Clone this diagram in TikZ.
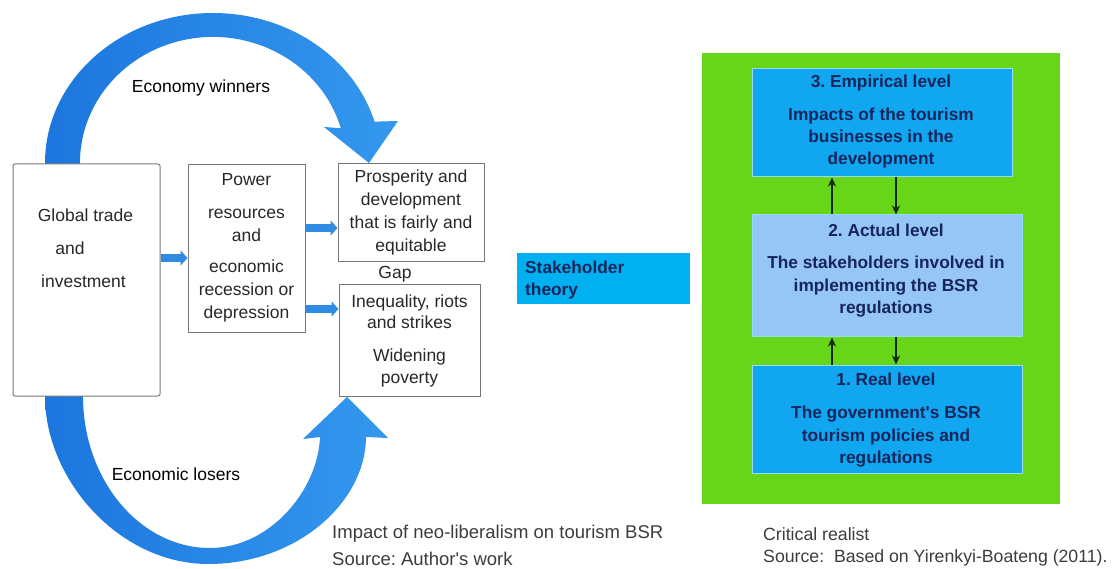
\documentclass[tikz,border=0pt]{standalone}
\usepackage{fontspec}
\setmainfont{Liberation Sans}
\usetikzlibrary{arrows.meta}
\frenchspacing

\definecolor{arcdark}{RGB}{28,118,222}
\definecolor{arclight}{RGB}{52,152,238}
\definecolor{flowblue}{RGB}{48,140,226}
\definecolor{framegray}{RGB}{120,120,120}
\definecolor{textgray}{RGB}{40,40,40}
\definecolor{capgray}{RGB}{60,60,60}
\definecolor{levelgreen}{RGB}{104,214,24}
\definecolor{levelblue}{RGB}{16,166,240}
\definecolor{levelpale}{RGB}{150,198,245}
\definecolor{leveledge}{RGB}{150,220,250}
\definecolor{navy}{RGB}{22,38,92}
\definecolor{stakecyan}{RGB}{0,176,240}
\definecolor{arrowdark}{RGB}{15,40,15}

\tikzset{
  plainbox/.style={draw=framegray, line width=1pt, fill=white},
  line/.style={font=\fontsize{17.5}{21}\selectfont, text=textgray, inner sep=0pt, anchor=base},
  boldline/.style={font=\fontsize{17.3}{21}\selectfont\bfseries, text=navy, inner sep=0pt, anchor=base},
  caption/.style={font=\fontsize{18.5}{22}\selectfont, text=capgray, inner sep=0pt, anchor=base west},
  flow/.style={draw=flowblue, line width=8pt, -{Triangle[length=7pt,width=15pt]}},
  lvlarrow/.style={draw=arrowdark, line width=2.2pt, -{Stealth[length=9pt,width=8pt]}},
  levelbox/.style={fill=levelblue, draw=leveledge, line width=1pt},
  bigarc/.style={left color=arcdark, right color=arclight, draw=none}
}

\begin{document}
\begin{tikzpicture}[x=1pt,y=-1pt]
\useasboundingbox (0,0) rectangle (1114,569);

% curved band "Economy winners" (over the top, pointing down)
\path[bigarc]
  (45,168) -- (45,163)
  arc[start angle=180, end angle=344, x radius=168, y radius=150]
  -- (398,121) -- (369,163) -- (324,127) -- (340.8,128.2)
  arc[start angle=344, end angle=180, x radius=133, y radius=126]
  -- (80,168) -- cycle;

% curved band "Economic losers" (underneath, pointing up)
\path[bigarc]
  (45,392) -- (45,396)
  .. controls (45,480) and (120,565) .. (210,564)
  .. controls (300,563) and (366,500) .. (366,437)
  -- (388,438) -- (347,397) -- (303,439) -- (320,437)
  .. controls (318,490) and (270,548) .. (210,548)
  .. controls (140,548) and (83,480) .. (83,396)
  -- (83,392) -- cycle;

% left-hand boxes
\node[plainbox, rounded corners=2pt, minimum width=147pt, minimum height=232pt] (global) at (86.5,280) {};
\node[plainbox, minimum width=117pt, minimum height=168pt] (power) at (246.5,249) {};
\node[plainbox, minimum width=146pt, minimum height=98pt] (prosper) at (411,213) {};
\node[plainbox, minimum width=141pt, minimum height=111pt] (inequal) at (409.5,340.5) {};

\node[line] (g1) at (85.5,222) {Global trade};
\node[line] (g2) at (70,255) {and};
\node[line] (g3) at (83.5,288) {investment};

\node[line] (p1) at (246.5,186) {Power};
\node[line] (p2) at (246.5,219) {resources};
\node[line] (p3) at (246.5,242) {and};
\node[line] (p4) at (246.5,273) {economic};
\node[line] (p5) at (246.5,296) {recession or};
\node[line] (p6) at (246.5,319) {depression};

\node[line] (q1) at (411,183) {Prosperity and};
\node[line] (q2) at (411,206) {development};
\node[line] (q3) at (411,229) {that is fairly and};
\node[line] (q4) at (411,252) {equitable};

\node[line] (gap) at (395,279) {Gap};

\node[line] (i1) at (409.5,308) {Inequality, riots};
\node[line] (i2) at (409.5,329) {and strikes};
\node[line] (i3) at (409.5,362) {Widening};
\node[line] (i4) at (409.5,383) {poverty};

% short flow arrows between the boxes
\coordinate (f1) at (0,258);
\coordinate (f2) at (0,228);
\coordinate (f3) at (0,309);
\draw[flow] (global.east |- f1) -- (power.west |- f1);
\draw[flow] (power.east |- f2) -- (prosper.west |- f2);
\draw[flow] (power.east |- f3) -- (inequal.west |- f3);

\node[line, text=black] (winners) at (201,93) {Economy winners};
\node[line, text=black] (losers) at (176,480) {Economic losers};

\node[caption] (cap1) at (332,538) {Impact of neo-liberalism on tourism BSR};
\node[caption] (cap2) at (332,565) {Source: Author\textquotesingle s work};

% stakeholder theory label
\node[fill=stakecyan, minimum width=173pt, minimum height=51pt] (stake) at (603,279) {};
\node[boldline, anchor=base west] (s1) at (525,274) {Stakeholder};
\node[boldline, anchor=base west] (s2) at (525,296) {theory};

% critical realist levels
\node[fill=levelgreen, minimum width=358pt, minimum height=451pt] (frame) at (881,278.5) {};
\node[levelbox, minimum width=260pt, minimum height=108pt] (lv3) at (882,123) {};
\node[levelbox, fill=levelpale, minimum width=270pt, minimum height=122pt] (lv2) at (887,276) {};
\node[levelbox, minimum width=270pt, minimum height=108pt] (lv1) at (887,419) {};

\node[boldline] (t31) at (881,88) {3. Empirical level};
\node[boldline] (t32) at (881,121) {Impacts of the tourism};
\node[boldline] (t33) at (881,143) {businesses in the};
\node[boldline] (t34) at (881,165) {development};

\node[boldline] (t21) at (886,237) {2. Actual level};
\node[boldline] (t22) at (886,269) {The stakeholders involved in};
\node[boldline] (t23) at (886,292) {implementing the BSR};
\node[boldline] (t24) at (886,314) {regulations};

\node[boldline] (t11) at (886,385) {1. Real level};
\node[boldline] (t12) at (886,418) {The government\textquotesingle s BSR};
\node[boldline] (t13) at (886,441) {tourism policies and};
\node[boldline] (t14) at (886,463) {regulations};

\coordinate (up) at (832,0);
\coordinate (down) at (896,0);
\draw[lvlarrow] (lv2.north -| up) -- (lv3.south -| up);
\draw[lvlarrow] (lv3.south -| down) -- (lv2.north -| down);
\draw[lvlarrow] (lv1.north -| up) -- (lv2.south -| up);
\draw[lvlarrow] (lv2.south -| down) -- (lv1.north -| down);

\node[caption, font=\fontsize{17.7}{21}\selectfont] (cr1) at (763,540) {Critical realist};
\node[caption, font=\fontsize{17.7}{21}\selectfont] (cr2) at (763,562) {Source:\ \ Based on Yirenkyi-Boateng (2011).};
\end{tikzpicture}
\end{document}
